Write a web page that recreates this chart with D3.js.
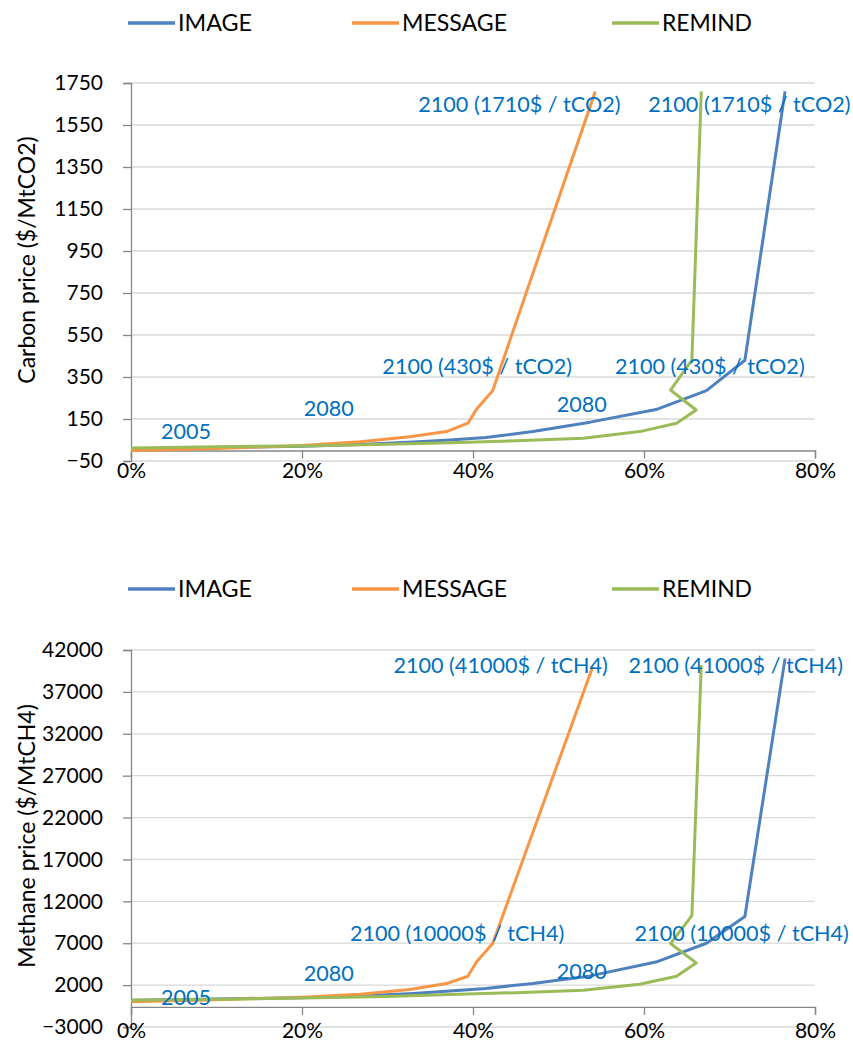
<!DOCTYPE html>
<html>
<head>
<meta charset="utf-8">
<script src="https://cdn.jsdelivr.net/npm/d3@7"></script>
<style>
  body { margin: 0; background: #fff; }
  svg text { font-family: Lato, "Open Sans", sans-serif; }
</style>
</head>
<body>
<svg id="chart" width="853" height="1047"></svg>
<script>
// series names and colours
const seriesNames = ["IMAGE", "MESSAGE", "REMIND"];
const seriesColors = ["#4F81BD", "#F79646", "#9BBB59"];

// carbon price: [share %, $/tCO2]
const co2Image = [[0, 8], [10, 14], [20, 20], [26.8, 28], [33, 40], [37.3, 50], [41.5, 62], [47, 90], [53.7, 135], [61.4, 195], [67.3, 285], [71.8, 430], [76.5, 1710]];
const co2Message = [[0, 0], [5, 5], [10, 10], [15, 17], [20, 24], [26.8, 42], [32.6, 66], [36.9, 90], [39.4, 130], [40.4, 196], [42.3, 285], [54.3, 1710]];
const co2Remind = [[0, 12], [10, 18], [20, 22], [30, 30], [37.3, 37], [45, 46], [52.9, 58], [59.5, 90], [63.8, 130], [66.1, 193], [63.1, 288], [65.6, 430], [66.7, 1710]];

// methane price: [share %, $/tCH4]
const ch4Image = [[0, 200], [10, 350], [20, 500], [26.8, 700], [33, 1000], [37.3, 1300], [41.5, 1600], [47, 2200], [53.7, 3100], [61.4, 4750], [67.3, 7000], [71.8, 10200], [76.5, 41000]];
const ch4Message = [[0, 0], [10, 250], [20, 550], [26.8, 900], [32.6, 1470], [36.9, 2185], [39.4, 3060], [40.4, 4770], [42.3, 6960], [54, 40000]];
const ch4Remind = [[0, 200], [10, 320], [20, 450], [30, 650], [37.3, 870], [45, 1100], [52.9, 1384], [59.5, 2100], [63.8, 3060], [66.1, 4650], [63.1, 6960], [65.6, 10300], [66.7, 40200]];

// axis ticks
const xTicks = [0, 20, 40, 60, 80];
const co2Ticks = [-50, 150, 350, 550, 750, 950, 1150, 1350, 1550, 1750];
const ch4Ticks = [-3000, 2000, 7000, 12000, 17000, 22000, 27000, 32000, 37000, 42000];

// annotations: [text, x %, value]
const co2Notes = [
  ["2100 (1710$ / tCO2)", 33.6, 1650],
  ["2100 (1710$ / tCO2)", 60.5, 1650],
  ["2100 (430$ / tCO2)", 29.4, 398],
  ["2100 (430$ / tCO2)", 56.6, 398],
  ["2080", 20.2, 200],
  ["2080", 49.8, 217],
  ["2005", 3.5, 93]
];
const ch4Notes = [
  ["2100 (41000$ / tCH4)", 30.7, 40200],
  ["2100 (41000$ / tCH4)", 58.2, 40200],
  ["2100 (10000$ / tCH4)", 25.6, 8200],
  ["2100 (10000$ / tCH4)", 58.9, 8200],
  ["2080", 20.2, 3350],
  ["2080", 49.8, 3590],
  ["2005", 3.5, 500]
];

const svg = d3.select("#chart");

function drawChart(opt) {
  const g = svg.append("g");
  const x = d3.scaleLinear().domain([0, 80]).range([131, 815]);
  const y = d3.scaleLinear().domain([opt.ticks[0], opt.ticks[opt.ticks.length - 1]]).range([opt.bottom, opt.top]);

  // legend
  const leg = g.append("g");
  const legX = [128, 352, 612];
  const legW = [74, 105, 90];
  seriesNames.forEach((name, i) => {
    leg.append("line")
      .attr("x1", legX[i]).attr("x2", legX[i] + 47)
      .attr("y1", opt.legendY).attr("y2", opt.legendY)
      .attr("stroke", seriesColors[i]).attr("stroke-width", 3.5);
    leg.append("text")
      .attr("x", legX[i] + 50).attr("y", opt.legendY)
      .attr("dy", "0.36em")
      .attr("font-size", 23.5)
      .attr("textLength", legW[i])
      .attr("lengthAdjust", "spacingAndGlyphs")
      .attr("fill", "#000")
      .text(name);
  });

  // gridlines
  g.append("g").selectAll("line")
    .data(opt.ticks)
    .enter().append("line")
    .attr("x1", 131).attr("x2", 815)
    .attr("y1", d => y(d)).attr("y2", d => y(d))
    .attr("stroke", "#d9d9d9").attr("stroke-width", 1.3);

  // y axis
  const yAxis = g.append("g")
    .attr("transform", "translate(131,0)")
    .call(d3.axisLeft(y).tickValues(opt.ticks).tickSize(8).tickPadding(20).tickFormat(d3.format("d")));
  yAxis.select(".domain").attr("stroke", "#868686").attr("stroke-width", 1.3);
  yAxis.selectAll(".tick line").attr("stroke", "#868686").attr("stroke-width", 1.3);
  yAxis.selectAll("text").attr("font-size", 21).attr("fill", "#000").attr("font-family", "Lato");

  // x axis, crossing at opt.cross
  const xAxis = g.append("g")
    .attr("transform", `translate(0,${y(opt.cross)})`)
    .call(d3.axisBottom(x).tickValues(xTicks).tickSize(8).tickSizeOuter(8).tickFormat(d => d + "%"));
  xAxis.select(".domain").attr("stroke", "#868686").attr("stroke-width", 1.3);
  xAxis.selectAll(".tick line").attr("stroke", "#868686").attr("stroke-width", 1.3);
  xAxis.selectAll("text")
    .attr("font-size", 21).attr("fill", "#000").attr("font-family", "Lato")
    .attr("y", opt.xLabelY - y(opt.cross)).attr("dy", "0.35em");

  // lines
  const line = d3.line().x(d => x(d[0])).y(d => y(d[1]));
  opt.series.forEach((s, i) => {
    g.append("path")
      .datum(s)
      .attr("fill", "none")
      .attr("stroke", seriesColors[i])
      .attr("stroke-width", 3)
      .attr("stroke-linejoin", "round")
      .attr("d", line);
  });

  // annotations
  g.append("g").selectAll("text")
    .data(opt.notes)
    .enter().append("text")
    .attr("x", d => x(d[1]))
    .attr("y", d => y(d[2]))
    .attr("dy", "0.35em")
    .attr("font-size", 21.6)
    .attr("fill", "#0070C0")
    .text(d => d[0]);

  // y title
  g.append("text")
    .attr("transform", `translate(27,${opt.titleY}) rotate(-90)`)
    .attr("text-anchor", "middle")
    .attr("dy", "0.35em")
    .attr("font-size", 23)
    .attr("fill", "#000")
    .text(opt.title);
}

drawChart({
  top: 83, bottom: 461, ticks: co2Ticks, cross: 0, legendY: 23, xLabelY: 471,
  series: [co2Image, co2Message, co2Remind], notes: co2Notes,
  title: "Carbon price ($/MtCO2)", titleY: 260
});

drawChart({
  top: 650, bottom: 1027, ticks: ch4Ticks, cross: -600, legendY: 589, xLabelY: 1031,
  series: [ch4Image, ch4Message, ch4Remind], notes: ch4Notes,
  title: "Methane price ($/MtCH4)", titleY: 836
});
</script>
</body>
</html>
